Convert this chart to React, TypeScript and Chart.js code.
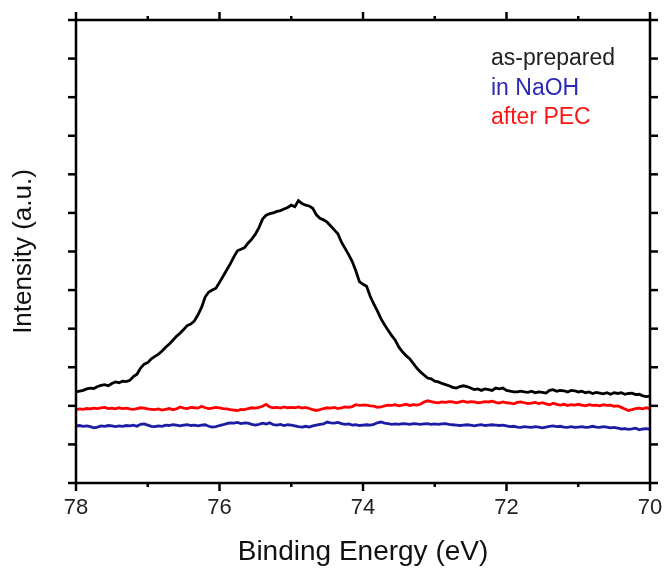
import React, { useEffect, useRef } from 'react';
import { Chart, registerables } from 'chart.js';

Chart.register(...registerables);

// ---- data ----
const X_START = 78; // eV, left edge (axis is reversed)
const X_END = 70;   // eV, right edge
const X_LABELS = [78, 76, 74, 72, 70];
const Y_MIN = 0;
const Y_MAX = 12;

const seriesNames = ['as-prepared', 'in NaOH', 'after PEC'];
const lineColors = ['#000000', '#1c1ca4', '#ff0000'];
const labelColors = ['#222222', '#2a2ab4', '#ff1414'];

// sampled every 0.05 eV from 78 to 70
const asPrepared = [
  2.36, 2.38, 2.40, 2.44, 2.46, 2.45, 2.50, 2.53, 2.55, 2.52, 2.58, 2.62, 2.60, 2.64, 2.63, 2.66, 2.76, 2.82, 2.98, 3.08, 3.12,
  3.22, 3.28, 3.34, 3.42, 3.52, 3.60, 3.70, 3.80, 3.88, 3.98, 4.08, 4.12, 4.20, 4.36, 4.55, 4.82, 4.95, 5.00, 5.05, 5.20,
  5.36, 5.52, 5.68, 5.86, 6.02, 6.06, 6.10, 6.22, 6.32, 6.45, 6.62, 6.84, 6.94, 6.98, 7.00, 7.04, 7.06, 7.10, 7.14, 7.20,
  7.16, 7.32, 7.24, 7.20, 7.18, 7.12, 6.95, 6.86, 6.82, 6.76, 6.66, 6.56, 6.46, 6.24, 6.08, 5.92, 5.74, 5.50, 5.22, 5.15,
  5.10, 4.84, 4.64, 4.46, 4.26, 4.10, 3.96, 3.82, 3.70, 3.52, 3.40, 3.30, 3.22, 3.10, 2.98, 2.88, 2.80, 2.72, 2.70, 2.64,
  2.62, 2.58, 2.55, 2.52, 2.48, 2.46, 2.50, 2.52, 2.50, 2.46, 2.42, 2.44, 2.40, 2.44, 2.42, 2.40, 2.46, 2.44, 2.46, 2.40,
  2.38, 2.36, 2.36, 2.38, 2.36, 2.35, 2.38, 2.34, 2.36, 2.35, 2.33, 2.40, 2.42, 2.38, 2.40, 2.39, 2.36, 2.40, 2.39, 2.36,
  2.38, 2.34, 2.36, 2.32, 2.35, 2.33, 2.31, 2.34, 2.30, 2.34, 2.32, 2.34, 2.30, 2.32, 2.33, 2.29, 2.30, 2.26, 2.24, 2.25,
];

const inNaOH = [
  1.48, 1.49, 1.47, 1.48, 1.46, 1.43, 1.45, 1.48, 1.47, 1.49, 1.48, 1.46, 1.48, 1.47, 1.49, 1.48, 1.50, 1.47, 1.52, 1.53, 1.50,
  1.47, 1.46, 1.48, 1.47, 1.50, 1.49, 1.51, 1.50, 1.48, 1.50, 1.51, 1.49, 1.50, 1.48, 1.50, 1.51, 1.47, 1.45, 1.46, 1.49,
  1.51, 1.54, 1.56, 1.55, 1.57, 1.54, 1.56, 1.55, 1.52, 1.50, 1.52, 1.55, 1.53, 1.56, 1.51, 1.50, 1.52, 1.49, 1.51, 1.50,
  1.48, 1.46, 1.45, 1.47, 1.45, 1.48, 1.50, 1.52, 1.53, 1.58, 1.56, 1.55, 1.57, 1.54, 1.52, 1.53, 1.50, 1.51, 1.49, 1.50,
  1.51, 1.50, 1.52, 1.56, 1.58, 1.55, 1.54, 1.52, 1.53, 1.52, 1.54, 1.53, 1.52, 1.54, 1.53, 1.52, 1.53, 1.54, 1.52, 1.53,
  1.52, 1.53, 1.54, 1.52, 1.51, 1.50, 1.49, 1.50, 1.51, 1.50, 1.48, 1.50, 1.51, 1.49, 1.50, 1.51, 1.50, 1.49, 1.50, 1.48,
  1.46, 1.47, 1.45, 1.44, 1.46, 1.45, 1.44, 1.46, 1.45, 1.43, 1.45, 1.47, 1.48, 1.46, 1.47, 1.45, 1.44, 1.46, 1.44, 1.45,
  1.46, 1.44, 1.45, 1.47, 1.45, 1.44, 1.46, 1.45, 1.43, 1.44, 1.42, 1.40, 1.41, 1.39, 1.40, 1.42, 1.38, 1.40, 1.41, 1.39,
];

const afterPEC = [
  1.90, 1.92, 1.91, 1.93, 1.92, 1.94, 1.93, 1.95, 1.96, 1.93, 1.94, 1.92, 1.95, 1.93, 1.94, 1.92, 1.91, 1.93, 1.95, 1.94, 1.92,
  1.91, 1.90, 1.92, 1.89, 1.91, 1.93, 1.90, 1.92, 1.97, 1.94, 1.93, 1.96, 1.95, 1.94, 1.99, 1.95, 1.93, 1.94, 1.96, 1.95,
  1.93, 1.92, 1.90, 1.89, 1.88, 1.91, 1.90, 1.93, 1.95, 1.94, 1.96, 1.99, 2.04, 1.97, 1.95, 1.96, 1.94, 1.97, 1.95, 1.96,
  1.95, 1.97, 1.94, 1.96, 1.93, 1.90, 1.88, 1.90, 1.93, 1.95, 1.94, 1.96, 1.93, 1.95, 1.97, 1.96, 1.98, 2.03, 2.01, 2.02,
  2.02, 2.00, 1.99, 1.96, 1.97, 2.00, 2.02, 2.01, 2.03, 2.00, 2.02, 2.04, 2.01, 2.03, 2.02, 2.04, 2.10, 2.13, 2.11, 2.09,
  2.08, 2.10, 2.09, 2.11, 2.10, 2.08, 2.10, 2.12, 2.09, 2.11, 2.10, 2.08, 2.09, 2.11, 2.10, 2.12, 2.09, 2.07, 2.10, 2.08,
  2.07, 2.05, 2.09, 2.10, 2.08, 2.06, 2.07, 2.09, 2.06, 2.08, 2.05, 2.03, 2.07, 2.04, 2.02, 2.04, 2.01, 2.03, 2.02, 2.04,
  2.02, 2.00, 2.03, 2.01, 2.02, 2.00, 2.03, 2.01, 2.02, 1.99, 2.00, 1.96, 1.92, 1.88, 1.90, 1.93, 1.94, 1.92, 1.95, 1.93,
];

const FONT = '"Liberation Sans", Arial, Helvetica, sans-serif';

function toPoints(vals: number[]) {
  const n = vals.length;
  return vals.map((y, i) => ({ x: X_START + ((X_END - X_START) * i) / (n - 1), y }));
}

const framePlugin = {
  id: 'frameAndLegend',
  afterDatasetsDraw(chart: any) {
    const { ctx, chartArea: a, scales } = chart;
    const xs = scales.x;
    const ys = scales.y;
    ctx.save();
    ctx.strokeStyle = '#000';
    ctx.lineWidth = 2.5;
    ctx.lineCap = 'butt';
    const seg = (x1: number, y1: number, x2: number, y2: number) => {
      ctx.beginPath();
      ctx.moveTo(x1, y1);
      ctx.lineTo(x2, y2);
      ctx.stroke();
    };
    ctx.strokeRect(a.left, a.top, a.right - a.left, a.bottom - a.top);
    for (let v = X_END; v <= X_START; v++) {
      const px = xs.getPixelForValue(v);
      const len = X_LABELS.includes(v) ? 8 : 4;
      seg(px, a.bottom, px, a.bottom + len);
      seg(px, a.top, px, a.top - len);
    }
    for (let v = Y_MIN; v <= Y_MAX; v++) {
      const py = ys.getPixelForValue(v);
      seg(a.left - 8, py, a.left, py);
      seg(a.right, py, a.right + 8, py);
    }
    // legend (text only)
    ctx.font = `23px ${FONT}`;
    ctx.textAlign = 'left';
    ctx.textBaseline = 'middle';
    seriesNames.forEach((name, i) => {
      ctx.fillStyle = labelColors[i];
      ctx.fillText(name, a.right - 159, a.top + 39 + i * 29.5);
    });
    ctx.restore();
  },
};

export default function App() {
  const ref = useRef<HTMLCanvasElement | null>(null);

  useEffect(() => {
    const canvas = ref.current;
    if (!canvas) return;
    const data = [asPrepared, inNaOH, afterPEC];
    const chart = new Chart(canvas, {
      type: 'line',
      data: {
        datasets: data.map((vals, i) => ({
          label: seriesNames[i],
          data: toPoints(vals),
          borderColor: lineColors[i],
          backgroundColor: lineColors[i],
          borderWidth: 2.8,
          pointRadius: 0,
          tension: 0,
          fill: false,
        })),
      },
      options: {
        animation: false,
        responsive: false,
        maintainAspectRatio: false,
        layout: { padding: { top: 20, right: 17, left: 0, bottom: 0 } },
        plugins: {
          legend: { display: false },
          tooltip: { enabled: false },
        },
        scales: {
          x: {
            type: 'linear',
            reverse: true,
            min: X_END,
            max: X_START,
            grid: { display: false },
            border: { display: false },
            ticks: {
              stepSize: 1,
              autoSkip: false,
              maxRotation: 0,
              padding: 4,
              color: '#222',
              font: { family: FONT, size: 22 },
              callback: (v: any) => (X_LABELS.includes(Number(v)) ? String(v) : ''),
            },
            title: {
              display: true,
              text: 'Binding Energy (eV)',
              color: '#111',
              font: { family: FONT, size: 28 },
              padding: { top: 0, bottom: 0 },
            },
            afterFit: (s: any) => {
              s.height = 86;
            },
          },
          y: {
            type: 'linear',
            min: Y_MIN,
            max: Y_MAX,
            grid: { display: false },
            border: { display: false },
            ticks: { display: false, stepSize: 1 },
            title: {
              display: true,
              text: 'Intensity (a.u.)',
              color: '#111',
              font: { family: FONT, size: 26 },
              padding: { top: 8, bottom: 0 },
            },
            afterFit: (s: any) => {
              s.width = 76;
            },
          },
        },
      },
      plugins: [framePlugin],
    } as any);
    return () => chart.destroy();
  }, []);

  return (
    <div style={{ position: 'fixed', left: 0, top: 0, width: 667, height: 569, background: '#fff' }}>
      <canvas ref={ref} width={667} height={569} style={{ display: 'block', width: 667, height: 569 }} />
    </div>
  );
}
